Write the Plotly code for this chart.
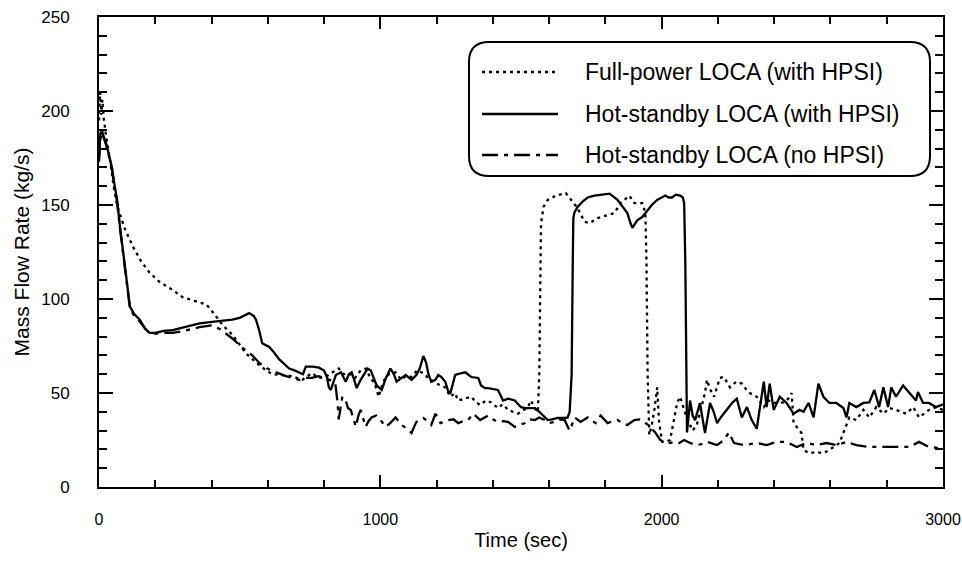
import plotly.graph_objects as go

# ---------------- data ----------------
fp_t = [0, 4, 8, 12, 17, 24, 39, 52, 64, 90, 120, 150, 180, 216, 260, 297, 340, 382, 410, 440,
        474, 500, 523, 560, 594, 616, 650, 686, 722, 757, 782, 806, 830, 852, 870, 888, 910, 930,
        948, 965, 980, 994, 1010, 1030, 1054, 1075, 1090, 1111, 1130, 1153, 1170, 1181, 1200, 1231,
        1249, 1265, 1277, 1300, 1323, 1340, 1355, 1375, 1394, 1418, 1435, 1454, 1470, 1489, 1510,
        1525, 1535, 1553, 1560, 1565, 1568, 1571, 1580, 1595, 1624, 1659, 1684, 1701, 1726, 1744,
        1772, 1808, 1832, 1854, 1885, 1903, 1931, 1942, 1946, 1950, 1956, 1965, 1974, 1984, 1991,
        2002, 2015, 2030, 2042, 2055, 2066, 2080, 2095, 2110, 2125, 2140, 2154, 2161, 2172, 2186,
        2197, 2207, 2221, 2243, 2265, 2285, 2300, 2313, 2338, 2363, 2380, 2398, 2434, 2450, 2462,
        2469, 2497, 2504, 2525, 2550, 2575, 2596, 2632, 2649, 2667, 2692, 2717, 2738, 2763, 2788,
        2810, 2833, 2869, 2894, 2915, 2950, 2975, 3000]
fp_v = [195, 210, 198, 206, 196, 188, 174, 160, 150, 138, 128, 120, 114, 109, 105, 101, 99, 97, 92, 86,
        81, 76, 71, 66, 62, 60, 59.5, 59, 57, 60.6, 58, 58.5, 61, 63, 60, 60.6, 58, 62,
        63, 58, 55, 48, 56, 60, 61, 57, 59, 58.5, 62, 60.6, 58, 57, 55, 53,
        48, 50, 46, 47, 48, 45, 43.6, 46, 45, 42, 44, 41, 40, 39, 41,
        42.5, 46, 41, 40, 60, 100, 140, 149, 152.7, 155, 156.4, 151.6, 148.4, 141, 140.4,
        143, 144.7, 145.7, 151, 155, 151, 151, 146, 120, 60, 27.7, 33, 41, 53, 34,
        24, 24, 25, 35, 44.7, 48, 41, 35, 30, 33, 42, 50, 57, 52, 48,
        54, 58, 58.5, 53, 56, 55, 52, 50, 48, 42.5, 46, 44.7, 45, 47, 50,
        34, 28.7, 19.7, 18, 18.6, 18, 19.7, 23.4, 30, 37, 35.6, 41, 37, 42.5, 39,
        42, 41, 39, 42.5, 37, 41, 42.5, 41]

hs_t = [0, 5, 10, 15, 25, 35, 46, 55, 64, 75, 85, 95, 103, 110, 125, 145, 165, 180, 200, 230,
        262, 300, 357, 410, 474, 500, 534, 550, 558, 570, 580, 605, 620, 640, 660, 676, 695, 711,
        725, 735, 760, 782, 800, 810, 817, 824, 833, 842, 860, 870, 877, 888, 898, 907, 916, 930,
        941, 955, 966, 978, 987, 1005, 1020, 1036, 1048, 1058, 1075, 1090, 1111, 1128, 1140, 1153,
        1163, 1171, 1181, 1196, 1206, 1217, 1231, 1242, 1249, 1258, 1266, 1288, 1302, 1323, 1348,
        1358, 1372, 1383, 1400, 1418, 1430, 1436, 1455, 1478, 1490, 1500, 1514, 1535, 1549, 1565,
        1578, 1595, 1610, 1631, 1655, 1666, 1673, 1680, 1684, 1686, 1690, 1701, 1720, 1737, 1761,
        1790, 1815, 1843, 1860, 1878, 1890, 1896, 1905, 1914, 1931, 1949, 1965, 1984, 2000, 2013,
        2025, 2037, 2050, 2066, 2075, 2080, 2084, 2087, 2090, 2101, 2110, 2119, 2136, 2154, 2165,
        2172, 2185, 2197, 2210, 2221, 2235, 2250, 2267, 2285, 2303, 2320, 2338, 2352, 2363, 2373,
        2384, 2398, 2420, 2444, 2469, 2490, 2504, 2522, 2540, 2557, 2575, 2596, 2621, 2646, 2657,
        2667, 2692, 2717, 2738, 2756, 2773, 2788, 2805, 2816, 2833, 2858, 2880, 2904, 2911, 2929,
        2950, 2975, 3000]
hs_v = [175, 188, 190, 187, 183, 177, 170, 161, 153, 138, 126, 112, 103, 96, 92, 89, 84, 82, 82, 83,
        83.5, 85, 87, 88, 89, 90, 92.5, 91, 89, 83, 76.5, 74.5, 72, 68, 65, 63, 62, 61,
        60, 64, 64, 63.5, 62, 58.5, 53, 51.6, 56, 59.6, 61, 58, 56, 60, 61, 57, 52.6, 57,
        59.6, 63, 62, 57, 54, 51.6, 58, 63, 60, 56, 58, 59.6, 57, 59.6, 63, 69.7,
        66, 60, 56, 57, 59.6, 58.5, 56, 50.5, 50, 55, 59.6, 60.6, 61, 58.5, 58,
        54, 52.6, 52.6, 52, 51.6, 48, 46, 47, 46, 44, 42.5, 42, 42, 42, 40,
        38, 35.6, 36, 36.7, 36.7, 37, 40, 60, 120, 143, 146, 149, 152, 154, 155,
        155.5, 156, 152.7, 149, 145.7, 140, 137.8, 140, 142, 143.6, 147, 150, 152.7, 154, 155,
        154, 154, 155.5, 155, 154, 151, 120, 50, 29, 46, 38, 35.6, 44.7, 28.7, 40,
        44.7, 40, 34, 37, 39, 42, 44.7, 47, 37, 42.5, 35.6, 31, 45, 56, 42.5,
        55, 41, 48, 44.7, 39, 41, 40, 44.7, 37, 55, 48, 44.7, 44.7, 42, 37,
        44.7, 42.5, 44.7, 45, 51.6, 42.5, 53, 42.5, 53, 48, 54, 50, 46, 50.5, 44.7,
        44.7, 42.5, 44]

nh_t = [0, 5, 10, 15, 25, 35, 46, 55, 64, 75, 85, 95, 103, 110, 125, 145, 165, 180, 200, 230,
        262, 300, 357, 400, 430, 474, 510, 545, 570, 598, 630, 665, 711, 740, 757, 780, 800, 820,
        840, 848, 852, 858, 865, 877, 885, 895, 905, 913, 922, 930, 940, 948, 958, 969, 985, 1001,
        1019, 1035, 1054, 1065, 1075, 1095, 1111, 1120, 1128, 1153, 1168, 1181, 1196, 1214, 1230,
        1242, 1260, 1277, 1295, 1312, 1330, 1355, 1383, 1400, 1418, 1435, 1454, 1478, 1495, 1514,
        1530, 1549, 1565, 1585, 1600, 1620, 1640, 1655, 1673, 1680, 1691, 1712, 1725, 1737, 1765,
        1783, 1808, 1825, 1843, 1860, 1878, 1903, 1920, 1938, 1960, 1977, 1995, 2010, 2030, 2045,
        2062, 2080, 2101, 2126, 2145, 2161, 2197, 2221, 2230, 2239, 2257, 2292, 2338, 2373, 2409,
        2444, 2480, 2515, 2550, 2586, 2621, 2657, 2692, 2738, 2788, 2833, 2880, 2915, 2950, 2975,
        3000]
nh_v = [173, 185, 189, 187, 182, 176, 169, 160, 152, 137, 125, 111, 102, 95, 91, 88, 84, 82, 81.5, 82,
        82, 83, 85, 86, 84, 79, 74, 70, 66, 63, 61, 59, 57, 58, 58, 59, 58, 57,
        55, 45, 36, 42, 48, 46, 42, 41, 36, 32, 38, 41, 36, 32, 35, 37, 38, 35.6,
        32, 34, 37, 35, 33, 31, 28.7, 32, 34.6, 36.7, 35, 33, 39, 34, 35,
        35.6, 36, 34, 35, 35.6, 39, 35.6, 38, 36, 34.6, 35, 34.6, 32, 33, 34,
        36, 35.6, 37, 35.6, 34, 34.6, 36, 35.6, 30, 33, 37, 34.6, 36, 37, 34,
        38, 34, 35, 35.6, 34, 33, 35.6, 36, 34.6, 32, 29, 25, 24, 23.4, 24,
        23.4, 25, 23.4, 22.3, 23, 24, 22.3, 25, 27, 29, 23.4, 22.3, 23.4, 22.3, 24,
        24, 21.3, 23.4, 22.3, 23.4, 22.3, 24, 22.3, 21.3, 21.3, 21.3, 21.3, 24, 21.3, 21,
        19.7]

series_names = ["Full-power LOCA (with HPSI)",
                "Hot-standby LOCA (with HPSI)",
                "Hot-standby LOCA (no HPSI)"]
x_ticks = [0, 1000, 2000, 3000]
y_ticks = [0, 50, 100, 150, 200, 250]

# ---------------- styles ----------------
FONT = "Liberation Sans, Arial, Helvetica, sans-serif"
dashes = ["3px,4px", "solid", "16px,6px,4px,6px"]
widths = [2.3, 2.3, 2.3]
series = [(fp_t, fp_v), (hs_t, hs_v), (nh_t, nh_v)]

ML, MR, MT, MB = 99, 19, 17, 78
FW, FH = 962, 565

fig = go.Figure()
for (t, v), name, dash, w in zip(series, series_names, dashes, widths):
    fig.add_trace(go.Scatter(x=t, y=v, mode="lines", name=name, showlegend=False,
                             line=dict(color="black", width=w, dash=dash)))

# ---------------- custom legend (rounded box) ----------------
W, H = float(FW - ML - MR), float(FH - MT - MB)   # plot area in px
def px(xp):  # absolute px -> paper x
    return (xp - ML) / W
def py(yp):  # absolute px -> paper y
    return (FH - MB - yp) / H

bx0, bx1, by0, by1 = px(469), px(930), py(176), py(42)
rx, ry = 20 / W, 20 / H
path = (f"M {bx0+rx},{by1} L {bx1-rx},{by1} Q {bx1},{by1} {bx1},{by1-ry} "
        f"L {bx1},{by0+ry} Q {bx1},{by0} {bx1-rx},{by0} L {bx0+rx},{by0} "
        f"Q {bx0},{by0} {bx0},{by0+ry} L {bx0},{by1-ry} Q {bx0},{by1} {bx0+rx},{by1} Z")
shapes = [dict(type="path", xref="paper", yref="paper", path=path,
               line=dict(color="black", width=2), fillcolor="white", layer="above")]
annotations = []
row_y = [72, 114, 155]
for ry_px, name, dash in zip(row_y, series_names, dashes):
    shapes.append(dict(type="line", xref="paper", yref="paper",
                       x0=px(482), x1=px(558), y0=py(ry_px), y1=py(ry_px),
                       line=dict(color="black", width=2.3, dash=dash), layer="above"))
    annotations.append(dict(xref="paper", yref="paper", x=px(583), y=py(ry_px),
                            xanchor="left", yanchor="middle", showarrow=False,
                            text=name, font=dict(family=FONT, size=23, color="black")))

fig.update_layout(
    width=FW, height=FH,
    margin=dict(l=ML, r=MR, t=MT, b=MB, autoexpand=False),
    paper_bgcolor="white", plot_bgcolor="white",
    font=dict(family=FONT, color="black"),
    shapes=shapes, annotations=annotations,
    showlegend=False,
)
fig.update_xaxes(
    range=[0, 3000], tickvals=x_ticks, showgrid=False, zeroline=False, automargin=False,
    showline=True, linecolor="black", linewidth=2, mirror="ticks",
    ticks="inside", ticklen=12, tickwidth=2, tickcolor="black",
    minor=dict(dtick=200, ticks="inside", ticklen=7, tickwidth=1.5, tickcolor="black", showgrid=False),
    tickfont=dict(family=FONT, size=16), ticklabelstandoff=17, ticklabeloverflow="allow",
    title=dict(text="Time (sec)", font=dict(family=FONT, size=20), standoff=6),
)
fig.update_yaxes(
    range=[0, 250], tickvals=y_ticks, showgrid=False, zeroline=False, automargin=False,
    showline=True, linecolor="black", linewidth=2, mirror="ticks",
    ticks="inside", ticklen=14, tickwidth=2, tickcolor="black",
    minor=dict(dtick=10, ticks="inside", ticklen=8, tickwidth=1.5, tickcolor="black", showgrid=False),
    tickfont=dict(family=FONT, size=17), ticklabelstandoff=24, ticklabeloverflow="allow",
    title=dict(text="Mass Flow Rate (kg/s)", font=dict(family=FONT, size=21), standoff=6),
)

fig.write_html("out.html")
